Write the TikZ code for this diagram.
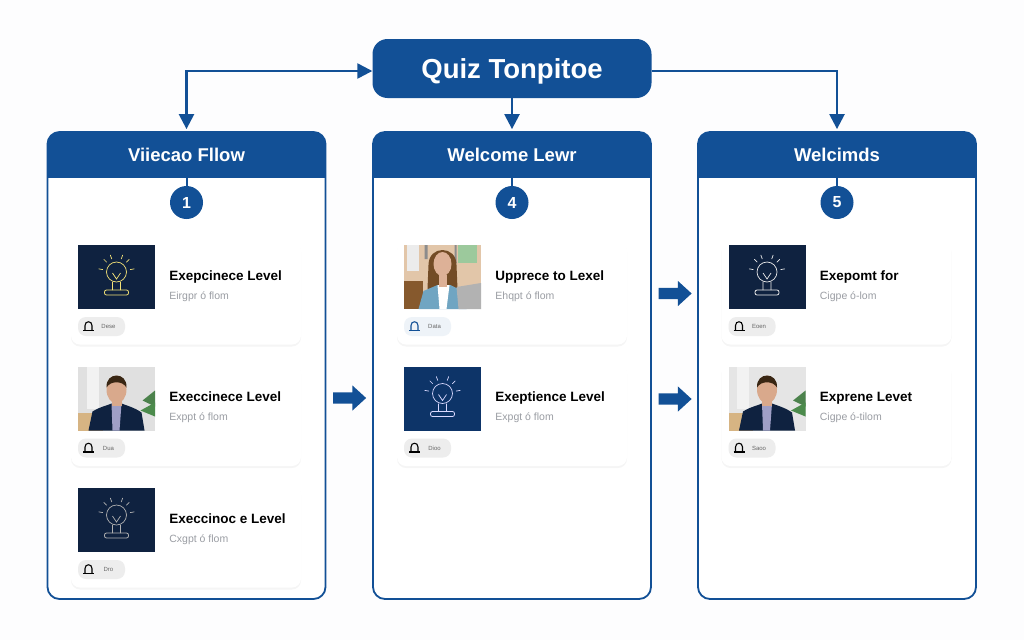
\documentclass[tikz,border=0pt]{standalone}
\usepackage{fontspec}
\setmainfont{Liberation Sans}
\usetikzlibrary{arrows.meta, positioning, shapes.arrows, shadows}

\definecolor{quizblue}{HTML}{125096}
\definecolor{pagewhite}{HTML}{FDFDFE}
\definecolor{subgray}{HTML}{9A9DA3}
\definecolor{navy}{HTML}{0F2240}
\definecolor{deepblue}{HTML}{0D3468}
\definecolor{skin}{HTML}{D9A98C}
\definecolor{desktan}{HTML}{D6B483}

\tikzset{
  panel/.style={draw=quizblue, line width=1.8pt, rounded corners=12pt, fill=white,
    minimum width=278pt, minimum height=467pt, inner sep=0pt,
    path picture={\fill[quizblue, sharp corners] (path picture bounding box.north west) rectangle ++(280,46);}},
  headtext/.style={text=white, font=\bfseries\fontsize{18.5}{20}\selectfont, minimum height=45pt, inner sep=0pt},
  stepnum/.style={circle, fill=quizblue, text=white, font=\bfseries\fontsize{16}{18}\selectfont,
    minimum size=33pt, inner sep=0pt},
  card/.style={rounded corners=9pt, fill=white, minimum width=230pt, minimum height=103pt, inner sep=0pt,
    general shadow={fill=black, opacity=.04, shadow xshift=0pt, shadow yshift=-2pt, scale=1.02}},
  thumb/.style={anchor=north west, minimum width=77pt, minimum height=64pt, inner sep=0pt},
  cardtitle/.style={anchor=west, inner sep=0pt, text height=10pt, text depth=3pt,
    font=\bfseries\fontsize{13.5}{15}\selectfont},
  cardsub/.style={anchor=north west, inner sep=0pt, text height=8pt, text depth=2pt, text=subgray,
    font=\fontsize{10.5}{12}\selectfont},
  pill/.style={anchor=north west, rounded corners=8pt, minimum width=47pt, minimum height=19pt, inner sep=0pt},
  pilltext/.style={inner sep=0pt, text=black!60, font=\fontsize{6}{7}\selectfont},
  link/.style={draw=quizblue, line width=2.4pt, {Triangle[length=15pt,width=15pt]}-{Triangle[length=15pt,width=15pt]}},
  linkdown/.style={draw=quizblue, line width=2.4pt, -{Triangle[length=15pt,width=15pt]}},
  flow/.style={single arrow, fill=quizblue, minimum height=33pt, inner sep=5.5pt,
    single arrow head extend=7pt, single arrow tip angle=85},
  pics/bulb/.style={code={
    \draw[#1, line width=.7pt, line cap=round] (0,-5) circle (10);
    \draw[#1, line width=.7pt] (-4,5) -- (-4,13) (4,5) -- (4,13) (-4,-4) -- (0,2) -- (4,-4);
    \draw[#1, line width=.8pt, rounded corners=2pt] (-12,13) rectangle (12,18);
    \foreach \rayangle in {-170,-135,-110,-70,-45,-10}
      \draw[#1, line width=.7pt, line cap=round] (\rayangle:14) ++(0,-5) -- ++(\rayangle:4);
  }},
  pics/pillicon/.style={code={
    \draw[#1, line width=1.1pt] (-3.5,4) -- (-3.5,-1) .. controls (-3.5,-6) and (3.5,-6) .. (3.5,-1) -- (3.5,4);
    \draw[#1, line width=1.1pt] (-5.5,4) -- (5.5,4);
  }},
  pics/man/.style={code={
    \fill[#1] (-38.5,-32) rectangle (38.5,32);
    \fill[white!90!gray] (-30,-32) rectangle (-18,10);
    \fill[desktan] (-38.5,14) rectangle (-14,32);
    \fill[green!30!black!70] (26,2) -- (38.5,-8) -- (38.5,8) -- cycle;
    \fill[green!35!black!70] (24,12) -- (38.5,4) -- (38.5,18) -- cycle;
    \fill[navy] (-28,32) -- (-24,13) .. controls (-16,8) and (-9,7) .. (-5,5)
      -- (5,5) .. controls (10,7) and (18,9) .. (25,14) -- (28,32) -- cycle;
    \fill[blue!25!gray!60] (-5,5) -- (5,5) -- (3,32) -- (-4,32) -- cycle;
    \fill[skin] (-5,-3) rectangle (5,7);
    \fill[skin] (0,-9) ellipse (10 and 14);
    \fill[black!70!brown] (-10,-11) .. controls (-11,-27) and (11,-27) .. (10,-11)
      .. controls (6,-18) and (-6,-18) .. (-10,-11) -- cycle;
  }},
  pics/woman/.style={code={
    \fill[brown!45!white] (-38.5,-32) rectangle (38.5,32);
    \fill[white!85!gray] (-36,-32) rectangle (-24,-6);
    \fill[black!45] (-18,-32) rectangle (-15,-18) (12,-32) rectangle (14,-14);
    \fill[green!30!gray!60] (15,-32) rectangle (34,-14);
    \fill[brown!70!black] (-38.5,4) rectangle (-20,32);
    \fill[brown!60!black] (-14,-12) .. controls (-14,-32) and (14,-32) .. (14,-12)
      -- (15,12) -- (-15,12) -- cycle;
    \fill[blue!35!cyan!40!gray!80] (-24,32) -- (-19,14) -- (-5,8) -- (8,8) -- (20,14) -- (24,32) -- cycle;
    \fill[white] (-5,8) -- (7,8) -- (4,32) -- (-3,32) -- cycle;
    \fill[skin!90!white] (-4,-2) rectangle (4,10);
    \fill[skin!90!white] (0,-13) ellipse (9 and 12);
    \fill[gray!60] (14,10) -- (38.5,6) -- (38.5,32) -- (16,32) -- cycle;
  }}
}

% one card: icon colour, name, position of its corner, thumb fill, texts
\newcommand{\quizcard}[8][black]{
  \node[card] (#2) at (#3) {};
  \node[thumb, fill=#4] (#2t) at ([shift={(7,3.5)}]#2.north west) {};
  \node[cardtitle] (#2a) at ([shift={(14,-0.5)}]#2t.east) {#5};
  \node[cardsub] (#2b) [below=8pt of #2a.south west, anchor=north west] {#6};
  \node[pill, fill=#1!7] (#2p) at ([shift={(7,75.5)}]#2.north west) {};
  \pic at ([xshift=-13pt]#2p.center) {pillicon=#1};
  \node[pilltext] (#2c) at ([xshift=7pt]#2p.center) {#7};
  #8
}

\begin{document}
\begin{tikzpicture}[x=1pt, y=-1pt]
    \useasboundingbox[fill=pagewhite] (0,0) rectangle (1024,640);

    \node[rounded corners=15pt, fill=quizblue, text=white, minimum width=279pt, minimum height=59pt,
          text height=20pt, text depth=0pt,
          font=\bfseries\fontsize{27.5}{30}\selectfont, inner sep=0pt] (top) at (512,68.5) {Quiz Tonpitoe};

    \foreach \pid/\px/\ptitle/\pnum in {1/186.5/Viiecao Fllow/1, 2/512/Welcome Lewr/4, 3/837/Welcimds/5}{
      \node[panel] (panel\pid) at (\px,365.5) {};
      \node[headtext] (head\pid) at (\px,155) {\ptitle};
      \node[stepnum] (num\pid) at (\px,202.5) {\pnum};
      \draw[quizblue, line width=2pt] (head\pid.south) -- (num\pid);
    }

    % connectors from the top box
    \draw[link, shorten >=2pt] ([yshift=-2.5pt]top.west) -| (panel1.north);
    \draw[linkdown, shorten >=2pt] (top.south) -- (panel2.north);
    \draw[linkdown, shorten >=2pt] ([yshift=-2.5pt]top.east) -| (panel3.north);

    % first column
    \quizcard{carda}{186,293}{navy}{Exepcinece Level}{Eirgpr ó flom}{Dese}{\pic at (cardat) {bulb={yellow!50!white!80!brown}};}
    \quizcard{cardb}{186,414.5}{gray!30}{Execcinece Level}{Exppt ó flom}{Dua}{\pic at (cardbt) {man={black!12}};}
    \quizcard{cardc}{186,536}{navy}{Execcinoc e Level}{Cxgpt ó flom}{Dro}{\pic at (cardct) {bulb={gray!60}};}

    % second column
    \quizcard[quizblue]{cardd}{512,293}{gray!30}{Upprece to Lexel}{Ehqpt ó flom}{Data}{\pic at (carddt) {woman};}
    \quizcard{carde}{512,414.5}{deepblue}{Exeptience Level}{Expgt ó flom}{Dioo}{\pic at (cardet) {bulb={white!85!blue}};}

    % third column
    \quizcard{cardf}{836.5,293}{navy}{Exepomt for}{Cigpe ó-lom}{Eoen}{\pic at (cardft) {bulb={white!85!gray}};}
    \quizcard{cardg}{836.5,414.5}{gray!30}{Exprene Levet}{Cigpe ó-tilom}{Saoo}{\pic at (cardgt) {man={black!10}};}

    % arrows between the columns
    \node[flow] (flowa) at (346.5,398) {};
    \node[flow] (flowb) at (672,293.5) {};
    \node[flow] (flowc) at (672,399) {};
\end{tikzpicture}
\end{document}
